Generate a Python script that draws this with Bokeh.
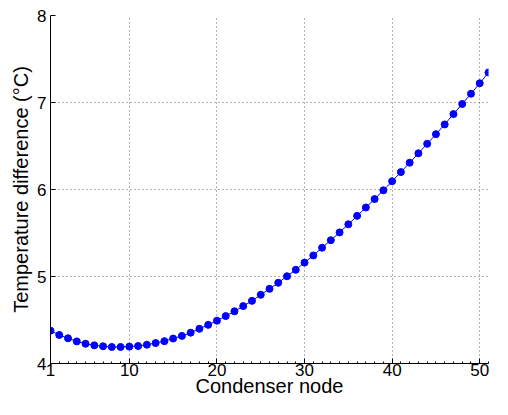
from bokeh.plotting import figure
from bokeh.models import FixedTicker, Range1d
from bokeh.embed import file_html
from bokeh.resources import INLINE

nodes = list(range(1, 52))
temp_diff = [4.377, 4.328, 4.290, 4.254, 4.227, 4.209, 4.198, 4.190, 4.190, 4.194,
             4.201, 4.216, 4.235, 4.257, 4.287, 4.317, 4.354, 4.399, 4.444, 4.492,
             4.545, 4.600, 4.660, 4.720, 4.790, 4.858, 4.928, 5.003, 5.077, 5.160,
             5.242, 5.331, 5.417, 5.507, 5.600, 5.697, 5.793, 5.890, 5.991, 6.095,
             6.200, 6.308, 6.416, 6.525, 6.636, 6.748, 6.867, 6.983, 7.101, 7.221,
             7.345]
x_ticks = [1, 10, 20, 30, 40, 50]
y_ticks = [4, 5, 6, 7, 8]

FONT = "Liberation Sans"

p = figure(width=492, height=399, output_backend="svg", toolbar_location=None,
           x_range=Range1d(1, 51), y_range=Range1d(4, 8),
           min_border_left=50, min_border_right=4, min_border_top=15, min_border_bottom=20)

p.outline_line_color = None
p.background_fill_color = "white"
p.border_fill_color = "white"

p.line(nodes, temp_diff, line_color="#0000ff", line_width=1)
p.scatter(nodes, temp_diff, size=7, fill_color="#0000ff", line_color="#0000ff")

p.xaxis.ticker = FixedTicker(ticks=x_ticks, minor_ticks=nodes)
p.yaxis.ticker = FixedTicker(ticks=y_ticks, minor_ticks=[])

for ax in (p.xaxis, p.yaxis):
    ax.axis_line_color = "black"
    ax.axis_line_width = 1
    ax.major_tick_in = 5
    ax.major_tick_out = 0
    ax.minor_tick_in = 2
    ax.minor_tick_out = 0
    ax.major_tick_line_color = "black"
    ax.minor_tick_line_color = "black"
    ax.major_label_text_font = FONT
    ax.major_label_text_font_size = "17px"
    ax.major_label_text_color = "black"
    ax.axis_label_text_font = FONT
    ax.axis_label_text_font_size = "20px"
    ax.axis_label_text_font_style = "normal"
    ax.axis_label_text_color = "black"

p.xaxis.axis_label = "Condenser node"
p.yaxis.axis_label = "Temperature difference (°C)"
p.xaxis.major_label_standoff = 0
p.xaxis.axis_label_standoff = -4
p.yaxis.major_label_standoff = 4
p.yaxis.axis_label_standoff = 2

for g in (p.xgrid, p.ygrid):
    g.grid_line_color = "#666666"
    g.grid_line_dash = "1 3"
    g.grid_line_width = 1

open("out.html", "w").write(file_html(p, INLINE))
